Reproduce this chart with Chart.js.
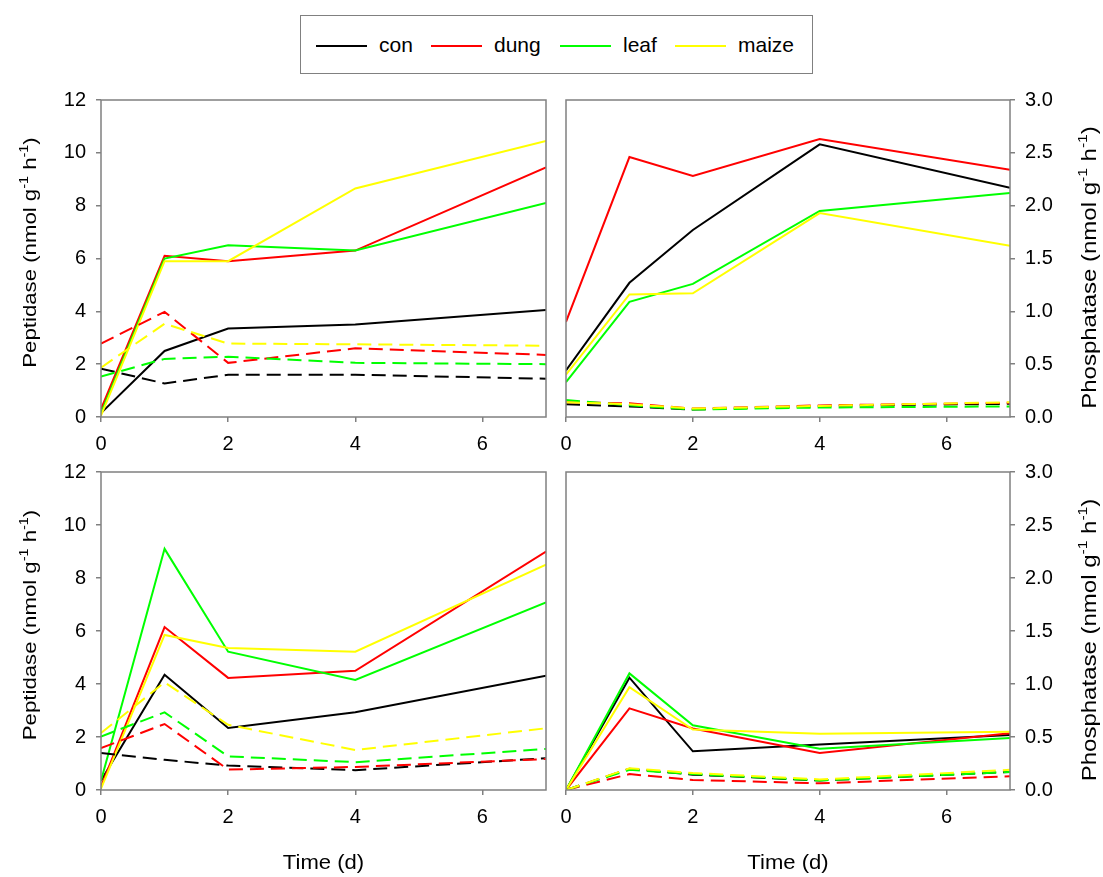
<!DOCTYPE html>
<html>
<head>
<meta charset="utf-8">
<script src="https://cdn.jsdelivr.net/npm/chart.js@4"></script>
<style>
    body { margin: 0; background: #fff; }
    #wrap { position: relative; width: 1103px; height: 877px; font-family: "Liberation Sans", Arial, sans-serif; }
    canvas { position: absolute; }
    #legend { position: absolute; left: 300px; top: 15px; width: 511px; height: 57px; border: 1.5px solid #808080; }
    .sw { position: absolute; top: 29px; width: 51px; height: 0; border-top: 2px solid; }
    .lb { position: absolute; top: 17px; font-size: 21px; line-height: 24px; color: #000; }
</style>
</head>
<body>
<div id="wrap">
    <div id="legend"></div>
    <canvas id="pepTop" width="556" height="372" style="left:0;top:88px"></canvas>
    <canvas id="phoTop" width="547" height="372" style="left:556px;top:88px"></canvas>
    <canvas id="pepBottom" width="556" height="417" style="left:0;top:460px"></canvas>
    <canvas id="phoBottom" width="547" height="417" style="left:556px;top:460px"></canvas>
</div>
<script>
// ========================================
// DATA
// ========================================
const days = [0, 1, 2, 4, 7];
const treatments = ['con', 'dung', 'leaf', 'maize'];
const treatmentColors = ['#000000', '#ff0000', '#00ff00', '#ffff00'];

const xTicks = [0, 2, 4, 6];
const peptidaseTicks = [0, 2, 4, 6, 8, 10, 12];
const phosphataseTicks = [0, 0.5, 1.0, 1.5, 2.0, 2.5, 3.0];

// order of rows: con, dung, leaf, maize
const pepTopSolid = [
    [0.15, 2.5, 3.35, 3.5, 4.05],
    [0.3, 6.1, 5.9, 6.3, 9.45],
    [0.15, 6.0, 6.5, 6.3, 8.1],
    [0.05, 5.9, 5.9, 8.65, 10.45]
];
const pepTopDashed = [
    [1.83, 1.27, 1.6, 1.6, 1.45],
    [2.78, 3.98, 2.05, 2.6, 2.35],
    [1.53, 2.2, 2.28, 2.05, 2.0],
    [1.87, 3.53, 2.78, 2.75, 2.7]
];
const phoTopSolid = [
    [0.44, 1.27, 1.77, 2.58, 2.17],
    [0.9, 2.46, 2.28, 2.63, 2.34],
    [0.33, 1.09, 1.26, 1.95, 2.12],
    [0.4, 1.16, 1.17, 1.93, 1.62]
];
const phoTopDashed = [
    [0.12, 0.10, 0.07, 0.105, 0.125],
    [0.14, 0.13, 0.08, 0.11, 0.135],
    [0.16, 0.11, 0.07, 0.09, 0.10],
    [0.14, 0.12, 0.08, 0.105, 0.14]
];
const pepBottomSolid = [
    [0.35, 4.35, 2.34, 2.93, 4.31],
    [0.12, 6.15, 4.23, 4.5, 9.0],
    [0.35, 9.1, 5.22, 4.15, 7.08],
    [0.05, 5.85, 5.36, 5.22, 8.5]
];
const pepBottomDashed = [
    [1.4, 1.14, 0.92, 0.75, 1.2],
    [1.58, 2.49, 0.77, 0.87, 1.17],
    [2.02, 2.93, 1.27, 1.05, 1.55],
    [2.15, 4.06, 2.46, 1.51, 2.33]
];
const phoBottomSolid = [
    [0, 1.06, 0.365, 0.43, 0.52],
    [0, 0.77, 0.58, 0.35, 0.535],
    [0, 1.10, 0.61, 0.39, 0.49],
    [0, 0.97, 0.57, 0.53, 0.55]
];
const phoBottomDashed = [
    [0, 0.2, 0.145, 0.09, 0.17],
    [0, 0.15, 0.095, 0.063, 0.13],
    [0, 0.19, 0.15, 0.09, 0.17],
    [0, 0.205, 0.16, 0.1, 0.19]
];

const FONT = '"Liberation Sans", Arial, sans-serif';

// ========================================
// LEGEND (html)
// ========================================
function buildLegend() {
    const legend = document.getElementById('legend');
    const swatchLeft = [15, 130, 259, 374];
    treatments.forEach(function (name, i) {
        const sw = document.createElement('div');
        sw.className = 'sw';
        sw.style.left = swatchLeft[i] + 'px';
        sw.style.borderColor = treatmentColors[i];
        legend.appendChild(sw);
        const lb = document.createElement('div');
        lb.className = 'lb';
        lb.style.left = (swatchLeft[i] + 63) + 'px';
        lb.textContent = name;
        legend.appendChild(lb);
    });
}

// ========================================
// FRAME + AXIS TITLES PLUGIN
// ========================================
// parts: [text, isSuperscript]
function drawSupText(ctx, parts, x, y, rotate, size, stretch) {
    const supSize = Math.round(size * 0.65);
    ctx.save();
    ctx.translate(x, y);
    if (rotate) ctx.rotate(-Math.PI / 2);
    ctx.scale(stretch, 1);
    ctx.fillStyle = '#000';
    ctx.textBaseline = 'middle';
    ctx.textAlign = 'left';
    let total = 0;
    parts.forEach(function (p) {
        ctx.font = (p[1] ? supSize : size) + 'px ' + FONT;
        total += ctx.measureText(p[0]).width;
    });
    let pos = -total / 2;
    parts.forEach(function (p) {
        ctx.font = (p[1] ? supSize : size) + 'px ' + FONT;
        ctx.fillText(p[0], pos, p[1] ? -size * 0.35 : 0);
        pos += ctx.measureText(p[0]).width;
    });
    ctx.restore();
}

const panelDecor = {
    id: 'panelDecor',
    afterDraw(chart, args, opts) {
        const ctx = chart.ctx;
        const a = chart.chartArea;
        ctx.save();
        ctx.strokeStyle = '#808080';
        ctx.lineWidth = 1.5;
        ctx.strokeRect(a.left, a.top, a.right - a.left, a.bottom - a.top);
        ctx.restore();

        const midY = (a.top + a.bottom) / 2;
        if (opts.yTitle) {
            drawSupText(ctx, opts.yTitle, opts.yTitleX, midY + opts.yTitleShift, true, opts.yTitleSize, 1.2);
        }
        if (opts.xTitle) {
            drawSupText(ctx, [[opts.xTitle, 0]], (a.left + a.right) / 2, opts.xTitleY, false, 21, 1.05);
        }
    }
};

function unitTitle(name) {
    return [[name + ' (nmol g', 0], ['-1', 1], [' h', 0], ['-1', 1], [')', 0]];
}

// keep the plot area where the layout padding puts it
function clearLabelPadding(scale) {
    scale.paddingTop = 0;
    scale.paddingBottom = 0;
    scale.paddingLeft = 0;
    scale.paddingRight = 0;
}

// ========================================
// PANELS
// ========================================
function makePanel(id, solid, dashed, cfg) {
    const datasets = [];
    const groups = [solid, dashed];
    groups.forEach(function (group, g) {
        group.forEach(function (values, i) {
            datasets.push({
                label: treatments[i] + (g ? ' dashed' : ''),
                data: values.map(function (v, k) { return { x: days[k], y: v }; }),
                borderColor: treatmentColors[i],
                borderWidth: 2,
                borderDash: g ? [14, 7] : [],
                pointRadius: 0,
                tension: 0,
                fill: false,
                order: 8 - (g * 4 + i)
            });
        });
    });

    const tickFont = { family: FONT, size: 20 };
    const gridOpts = { drawOnChartArea: false, drawTicks: true, tickLength: 5, color: '#808080', lineWidth: 1.5 };

    new Chart(document.getElementById(id), {
        type: 'line',
        data: { datasets: datasets },
        options: {
            responsive: false,
            devicePixelRatio: 1,
            animation: false,
            layout: { padding: cfg.padding },
            plugins: {
                legend: { display: false },
                tooltip: { enabled: false },
                panelDecor: {
                    yTitle: cfg.yTitle,
                    yTitleX: cfg.yTitleX,
                    yTitleShift: cfg.yTitleShift,
                    yTitleSize: cfg.yTitleSize,
                    xTitle: cfg.xTitle,
                    xTitleY: cfg.xTitleY
                }
            },
            scales: {
                x: {
                    type: 'linear',
                    min: 0,
                    max: 7,
                    afterBuildTicks: function (scale) {
                        scale.ticks = xTicks.map(function (v) { return { value: v }; });
                    },
                    ticks: { font: tickFont, color: '#000', padding: 10, maxRotation: 0 },
                    grid: gridOpts,
                    border: { display: false },
                    afterFit: function (scale) {
                        scale.height = cfg.xHeight;
                        clearLabelPadding(scale);
                    }
                },
                y: {
                    type: 'linear',
                    position: cfg.yPosition,
                    min: 0,
                    max: cfg.yTicks[cfg.yTicks.length - 1],
                    afterBuildTicks: function (scale) {
                        scale.ticks = cfg.yTicks.map(function (v) { return { value: v }; });
                    },
                    ticks: {
                        font: tickFont,
                        color: '#000',
                        padding: 10,
                        callback: function (value) {
                            return cfg.decimals ? value.toFixed(1) : String(value);
                        }
                    },
                    grid: gridOpts,
                    border: { display: false },
                    afterFit: function (scale) {
                        scale.width = cfg.yWidth;
                        clearLabelPadding(scale);
                    }
                }
            }
        },
        plugins: [panelDecor]
    });
}

document.addEventListener('DOMContentLoaded', function () {
    buildLegend();

    makePanel('pepTop', pepTopSolid, pepTopDashed, {
        padding: { top: 12, right: 10, left: 0, bottom: 0 },
        yPosition: 'left', yWidth: 101, xHeight: 43,
        yTicks: peptidaseTicks, decimals: false,
        yTitle: unitTitle('Peptidase'), yTitleX: 31, yTitleShift: -6, yTitleSize: 18.5
    });
    makePanel('phoTop', phoTopSolid, phoTopDashed, {
        padding: { top: 12, right: 0, left: 10, bottom: 0 },
        yPosition: 'right', yWidth: 93, xHeight: 43,
        yTicks: phosphataseTicks, decimals: true,
        yTitle: unitTitle('Phosphatase'), yTitleX: 534, yTitleShift: 9, yTitleSize: 20
    });
    makePanel('pepBottom', pepBottomSolid, pepBottomDashed, {
        padding: { top: 12, right: 10, left: 0, bottom: 0 },
        yPosition: 'left', yWidth: 101, xHeight: 87,
        yTicks: peptidaseTicks, decimals: false,
        yTitle: unitTitle('Peptidase'), yTitleX: 31, yTitleShift: -6, yTitleSize: 18.5,
        xTitle: 'Time (d)', xTitleY: 403
    });
    makePanel('phoBottom', phoBottomSolid, phoBottomDashed, {
        padding: { top: 12, right: 0, left: 10, bottom: 0 },
        yPosition: 'right', yWidth: 93, xHeight: 87,
        yTicks: phosphataseTicks, decimals: true,
        yTitle: unitTitle('Phosphatase'), yTitleX: 534, yTitleShift: 9, yTitleSize: 20,
        xTitle: 'Time (d)', xTitleY: 403
    });
});
</script>
</body>
</html>
